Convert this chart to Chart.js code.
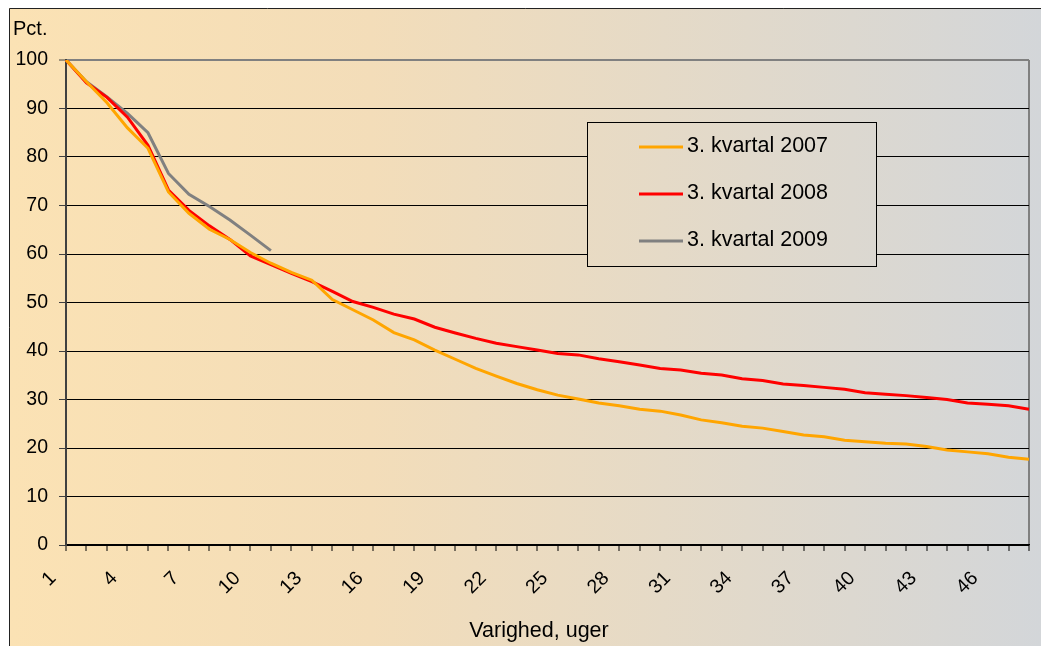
<!DOCTYPE html>
<html>
<head>
<meta charset="utf-8">
<script src="https://cdn.jsdelivr.net/npm/chart.js@4.4.1/dist/chart.umd.min.js"></script>
<style>
  html, body { margin: 0; padding: 0; background: #fff; }
  #wrap { width: 1041px; height: 646px; position: relative; }
</style>
</head>
<body>
<div id="wrap"><canvas id="durationChart"></canvas></div>
<script>
const FONT = '"Liberation Sans", Arial, sans-serif';

const weeks = [
  "1", "2", "3", "4", "5", "6", "7", "8", "9", "10", "11", "12",
  "13", "14", "15", "16", "17", "18", "19", "20", "21", "22", "23", "24",
  "25", "26", "27", "28", "29", "30", "31", "32", "33", "34", "35", "36",
  "37", "38", "39", "40", "41", "42", "43", "44", "45", "46", "47", "48"
];
const shownWeeks = ["1", "4", "7", "10", "13", "16", "19", "22", "25", "28", "31", "34", "37", "40", "43", "46"];

const q3_2007 = [
  100, 95.5, 91.2, 86, 81.8, 72.8, 68.4, 65.1, 63, 60.3, 58.1, 56.2,
  54.6, 50.6, 48.5, 46.4, 43.8, 42.3, 40.2, 38.3, 36.4, 34.8, 33.3, 32,
  30.9, 30.1, 29.3, 28.7, 28, 27.6, 26.8, 25.8, 25.2, 24.5, 24.1, 23.4,
  22.7, 22.3, 21.6, 21.3, 21, 20.8, 20.3, 19.6, 19.2, 18.8, 18.1, 17.7
];
const q3_2008 = [
  100, 95.3, 92.3, 88.2, 82.4, 73.2, 69, 65.8, 63, 59.6, 57.8, 56,
  54.3, 52.3, 50.2, 49, 47.6, 46.6, 44.9, 43.7, 42.6, 41.6, 40.9, 40.2,
  39.5, 39.2, 38.4, 37.8, 37.1, 36.4, 36.1, 35.4, 35.05, 34.3, 33.9, 33.2,
  32.9, 32.5, 32.1, 31.4, 31.1, 30.8, 30.4, 30, 29.3, 29, 28.7, 28
];
const q3_2009 = [100, 95.5, 92.4, 89, 85, 76.6, 72.3, 69.8, 67, 63.9, 60.7];

const seriesNames = ["3. kvartal 2007", "3. kvartal 2008", "3. kvartal 2009"];
const seriesColors = ["#FFA500", "#FF0000", "#808080"];
const seriesValues = [q3_2007, q3_2008, q3_2009];

function panelGradient(ctx, width) {
  const g = ctx.createLinearGradient(10, 0, width, 0);
  g.addColorStop(0, "#FBE2B4");
  g.addColorStop(0.35, "#F3DDB9");
  g.addColorStop(1, "#D3D6D9");
  return g;
}

// white margin, gradient panel and its border
const backdrop = {
  id: "backdrop",
  beforeDraw(chart) {
    const { ctx, width, height } = chart;
    ctx.save();
    ctx.fillStyle = "#fff";
    ctx.fillRect(0, 0, width, height);
    ctx.fillStyle = panelGradient(ctx, width);
    ctx.fillRect(9, 8, width - 9, height - 8);
    ctx.strokeStyle = "#222";
    ctx.lineWidth = 1;
    ctx.beginPath();
    ctx.moveTo(9.5, height);
    ctx.lineTo(9.5, 8.5);
    ctx.lineTo(width, 8.5);
    ctx.stroke();
    ctx.restore();
  }
};

// boxed legend inside the plot and the two axis captions
const boxLegend = {
  id: "boxLegend",
  afterDraw(chart) {
    const { ctx, width } = chart;
    ctx.save();
    ctx.fillStyle = panelGradient(ctx, width);
    ctx.fillRect(587, 122, 289, 144);
    ctx.strokeStyle = "#000";
    ctx.lineWidth = 1;
    ctx.strokeRect(587.5, 122.5, 289, 144);

    ctx.font = `21.5px ${FONT}`;
    ctx.textBaseline = "alphabetic";
    chart.data.datasets.forEach((ds, i) => {
      const y = 147 + i * 47;
      ctx.strokeStyle = ds.borderColor;
      ctx.lineWidth = 3;
      ctx.beginPath();
      ctx.moveTo(639, y);
      ctx.lineTo(683, y);
      ctx.stroke();
      ctx.fillStyle = "#000";
      ctx.fillText(ds.label, 687, y + 5);
    });

    ctx.font = `20px ${FONT}`;
    ctx.fillText("Pct.", 13, 35);
    ctx.font = `21.5px ${FONT}`;
    ctx.textAlign = "center";
    ctx.fillText("Varighed, uger", 539, 637);
    ctx.restore();
  }
};

new Chart(document.getElementById("durationChart"), {
  type: "line",
  data: {
    labels: weeks,
    datasets: seriesNames.map((name, i) => ({
      label: name,
      data: seriesValues[i],
      borderColor: seriesColors[i],
      backgroundColor: seriesColors[i],
      borderWidth: 3,
      pointRadius: 0,
      tension: 0,
      fill: false
    }))
  },
  options: {
    responsive: true,
    maintainAspectRatio: false,
    animation: false,
    layout: { padding: { left: 10, top: 60, right: 12, bottom: 0 } },
    plugins: {
      legend: { display: false },
      tooltip: { enabled: false }
    },
    scales: {
      x: {
        offset: false,
        grid: {
          color: (c) => (c.index === weeks.length - 1 ? "#808080" : "rgba(0,0,0,0)"),
          lineWidth: 2,
          tickColor: "#000",
          tickWidth: 1,
          tickLength: 6
        },
        border: { color: "#000", width: 1.5 },
        ticks: {
          autoSkip: false,
          minRotation: 45,
          maxRotation: 45,
          padding: 16,
          labelOffset: -13,
          color: "#000",
          font: { family: FONT, size: 19.5 },
          callback: (value, i) => (shownWeeks.includes(weeks[i]) ? weeks[i] : "")
        },
        afterFit: (scale) => {
          scale.height = 101;
          scale.paddingLeft = 0;
          scale.paddingRight = 0;
        }
      },
      y: {
        min: 0,
        max: 100,
        ticks: {
          stepSize: 10,
          padding: 11,
          color: "#000",
          font: { family: FONT, size: 19.5 }
        },
        grid: {
          color: (c) => (c.tick && c.tick.value === 100 ? "#808080" : "#000"),
          lineWidth: (c) => (c.tick && c.tick.value === 100 ? 2 : 1),
          tickColor: "#404040",
          tickWidth: 1,
          tickLength: 7
        },
        border: { color: "#404040", width: 2 },
        afterFit: (scale) => { scale.width = 56; }
      }
    }
  },
  plugins: [backdrop, boxLegend]
});
</script>
</body>
</html>
